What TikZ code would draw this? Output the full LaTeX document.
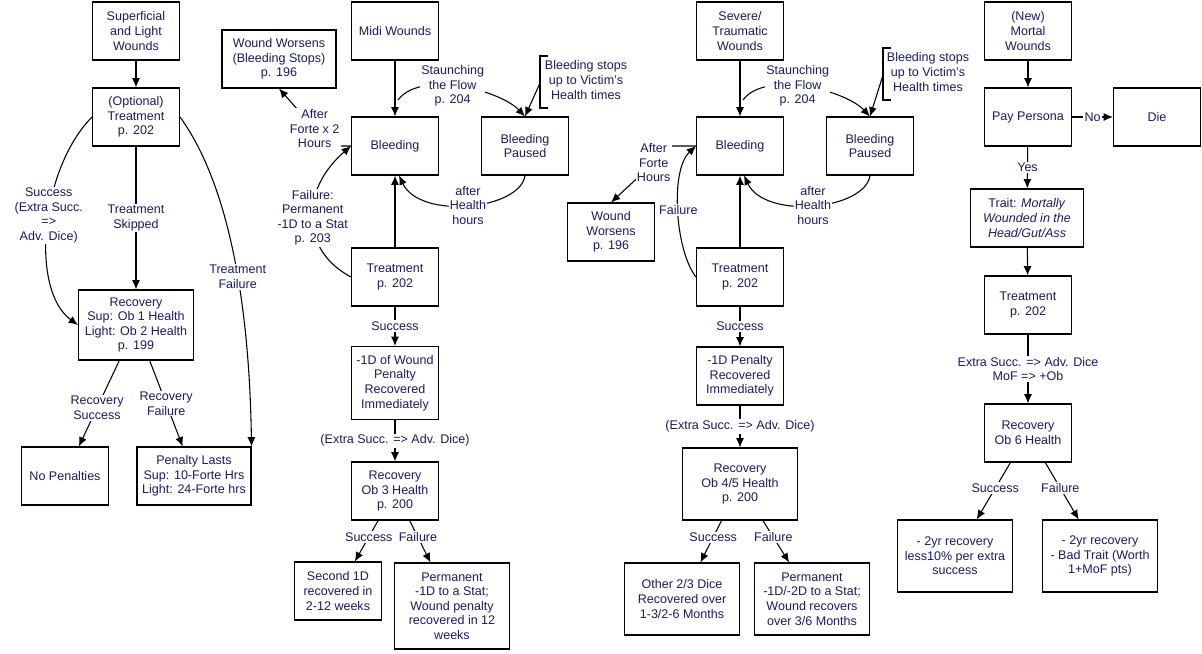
\documentclass[tikz,border=0pt]{standalone}
\usepackage{fontspec}
\setmainfont{Liberation Sans}
\usetikzlibrary{arrows.meta}
\definecolor{txt}{HTML}{1A1A60}
\begin{document}
\begin{tikzpicture}[x=0.75pt,y=-0.75pt,
  every node/.style={font=\fontsize{9.4pt}{10.9pt}\selectfont,text=txt,align=center},
  box/.style={draw,line width=0.8pt,minimum width=65.25pt,minimum height=43.5pt,inner sep=1pt},
  lab/.style={fill=white,inner sep=1pt},
  arr/.style={-{Latex[length=7pt,width=6pt]},line width=0.8pt},
  ln/.style={line width=0.8pt}]
\useasboundingbox (0,0) rectangle (1202,653);
% column 1
\node[box] (sup) at (136,31) {Superficial\\and Light\\Wounds};
\node[box] (opt) at (136,117) {(Optional)\\Treatment\\p. 202};
\node[box,minimum width=86.25pt,minimum height=52.5pt] (rec1) at (136,325) {Recovery\\Sup: Ob 1 Health\\Light: Ob 2 Health\\p. 199};
\node[box] (nopen) at (65,476) {No Penalties};
\node[box,minimum width=85.5pt] (plast) at (194,476) {Penalty Lasts\\Sup: 10-Forte Hrs\\Light: 24-Forte hrs};
\draw[arr] (sup) -- (opt);
\draw[arr] (opt) -- node[lab]{Treatment\\Skipped} (rec1);
\draw[arr] (opt.west) .. controls (40,170) and (30,290) .. node[lab,pos=0.45]{Success\\(Extra Succ.\\=>\\Adv. Dice)} (rec1.west);
\draw[arr] (opt.east) .. controls (240,200) and (250,350) .. node[lab,pos=0.5]{Treatment\\Failure} (plast.north east);
\draw[arr] (rec1) -- node[lab,pos=0.55]{Recovery\\Success} (nopen);
\draw[arr] (rec1) -- node[lab,pos=0.5]{Recovery\\Failure} (plast);
% column 2
\node[box,minimum width=85.5pt] (ww1) at (279,59) {Wound Worsens\\(Bleeding Stops)\\p. 196};
\node[box] (midi) at (395,31) {Midi Wounds};
\node[box] (bl1) at (395,146) {Bleeding};
\node[box] (pa1) at (525,146) {Bleeding\\Paused};
\node (bs1) at (586,80) {Bleeding stops\\up to Victim's\\Health times};
\coordinate (bk1) at (540,83);
\node[box] (tr1) at (395,277) {Treatment\\p. 202};
\node[box,minimum height=54.75pt] (pen1) at (395,383) {-1D of Wound\\Penalty\\Recovered\\Immediately};
\node[box] (rec3) at (395,491) {Recovery\\Ob 3 Health\\p. 200};
\node[box] (sec1) at (338,591) {Second 1D\\recovered in\\2-12 weeks};
\node[box,minimum width=86.25pt,minimum height=64.5pt] (perm1) at (452,606) {Permanent\\-1D to a Stat;\\Wound penalty\\recovered in 12\\weeks};
\coordinate (st1) at (398,100);
\draw[arr] (midi.south -| bl1) -- (bl1);
\draw[arr] (st1) .. controls (420,70) and (500,90) .. node[lab,pos=0.45]{Staunching\\the Flow\\p. 204} (pa1.north);
\draw[ln] (548,56) -- (540,56) -- (540,108) -- (548,108);
\draw[arr] (bk1) -- (pa1.north);
\draw[arr] (pa1.south) .. controls (520,210) and (420,220) .. node[lab,pos=0.5]{after\\Health\\hours} ([xshift=3]bl1.south);
\draw[arr,{Latex[length=7pt,width=6pt]}-] (bl1) -- (tr1);
\draw[arr] (bl1.west) -- (330,146) -- node[lab,pos=0.3]{After\\Forte x 2\\Hours} (ww1.south);
\draw[arr] (tr1.west) .. controls (300,250) and (300,190) .. node[lab,pos=0.5]{Failure:\\Permanent\\-1D to a Stat\\p. 203} (bl1.west);
\draw[arr] (tr1) -- node[lab]{Success} (pen1);
\draw[arr] (pen1) -- node[lab]{(Extra Succ. => Adv. Dice)} (rec3);
\draw[arr] (rec3) -- node[lab,pos=0.4]{Success} (sec1);
\draw[arr] (rec3) -- node[lab,pos=0.4]{Failure} (perm1);
% column 3
\node[box] (sev) at (740,31) {Severe/\\Traumatic\\Wounds};
\node[box] (bl2) at (740,146) {Bleeding};
\node[box] (pa2) at (870,146) {Bleeding\\Paused};
\node (bs2) at (928,72) {Bleeding stops\\up to Victim's\\Health times};
\coordinate (bk2) at (883,75);
\node[box] (ww2) at (611,232) {Wound\\Worsens\\p. 196};
\node[box] (tr2) at (740,277) {Treatment\\p. 202};
\node[box] (pen2) at (740,376) {-1D Penalty\\Recovered\\Immediately};
\node[box,minimum width=86.25pt,minimum height=54pt] (rec45) at (740,484) {Recovery\\Ob 4/5 Health\\p. 200};
\node[box,minimum width=86.25pt,minimum height=54pt] (oth) at (682,599) {Other 2/3 Dice\\Recovered over\\1-3/2-6 Months};
\node[box,minimum width=86.25pt,minimum height=54pt] (perm2) at (812,599) {Permanent\\-1D/-2D to a Stat;\\Wound recovers\\over 3/6 Months};
\coordinate (st2) at (743,100);
\draw[arr] (sev.south -| bl2) -- (bl2);
\draw[arr] (st2) .. controls (765,70) and (845,90) .. node[lab,pos=0.45]{Staunching\\the Flow\\p. 204} (pa2.north);
\draw[ln] (891,48) -- (883,48) -- (883,100) -- (891,100);
\draw[arr] (bk2) -- (pa2.north);
\draw[arr] (pa2.south) .. controls (865,210) and (765,220) .. node[lab,pos=0.5]{after\\Health\\hours} ([xshift=3]bl2.south);
\draw[arr,{Latex[length=7pt,width=6pt]}-] (bl2) -- (tr2);
\draw[arr] (bl2.west) -- (672,146) -- node[lab,pos=0.3]{After\\Forte\\Hours} (ww2.north);
\draw[arr] (tr2.west) .. controls (675,250) and (670,170) .. node[lab,pos=0.5]{Failure} (bl2.west);
\draw[arr] (tr2) -- node[lab]{Success} (pen2);
\draw[arr] (pen2) -- node[lab]{(Extra Succ. => Adv. Dice)} (rec45);
\draw[arr] (rec45) -- node[lab,pos=0.4]{Success} (oth);
\draw[arr] (rec45) -- node[lab,pos=0.4]{Failure} (perm2);
% column 4
\node[box] (mort) at (1028,31) {(New)\\Mortal\\Wounds};
\node[box] (pay) at (1028,117) {Pay Persona};
\node[box] (die) at (1157,117) {Die};
\node[box,minimum width=84.75pt] (trait) at (1027,218) {Trait: \textit{Mortally}\\\textit{Wounded in the}\\\textit{Head/Gut/Ass}};
\node[box] (tr3) at (1028,305) {Treatment\\p. 202};
\node[box] (rec6) at (1028,433) {Recovery\\Ob 6 Health};
\node[box,minimum width=86.25pt,minimum height=54pt] (s2) at (955,556) {- 2yr recovery\\less10\% per extra\\success};
\node[box,minimum width=86.25pt,minimum height=54pt] (f2) at (1100,556) {- 2yr recovery\\- Bad Trait (Worth\\1+MoF pts)};
\draw[arr] (mort) -- (pay);
\draw[arr] (pay) -- node[lab]{No} (die);
\draw[arr] (pay) -- node[lab]{Yes} (trait);
\draw[arr] (trait) -- (tr3);
\draw[arr] (tr3) -- node[lab]{Extra Succ. => Adv. Dice\\MoF => +Ob} (rec6);
\draw[arr] (rec6) -- node[lab,pos=0.45]{Success} (s2);
\draw[arr] (rec6) -- node[lab,pos=0.45]{Failure} (f2);
\end{tikzpicture}
\end{document}
